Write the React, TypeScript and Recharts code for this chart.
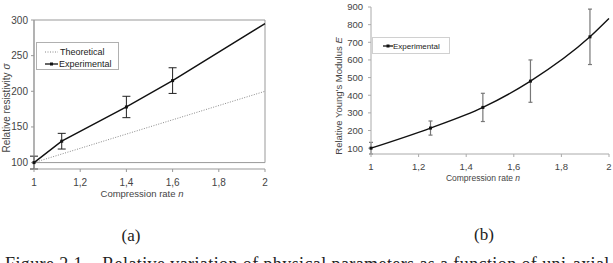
import {
  LineChart,
  Line,
  XAxis,
  YAxis,
  ErrorBar,
  Legend,
  ReferenceArea,
} from "recharts";

// (a) relative resistivity vs compression rate
const rateA = [1, 1.12, 1.4, 1.6, 2];
const theoreticalA = [100, 112, 140, 160, 200];
const experimentalA = [100, 130, 178, 215, 295];
const errorA = [9, 11, 15, 18, null];
const xTicksA = [1, 1.2, 1.4, 1.6, 1.8, 2];
const yTicksA = [100, 150, 200, 250, 300];

// (b) relative Young's modulus vs compression rate
const rateB = [1, 1.25, 1.47, 1.67, 1.92, 2];
const experimentalB = [100, 214, 331, 480, 731, 835];
const errorB = [33, 40, 80, 120, 157, null];
const xTicksB = [1, 1.2, 1.4, 1.6, 1.8, 2];
const yTicksB = [100, 200, 300, 400, 500, 600, 700, 800, 900];

const dataA = rateA.map((n, i) => ({
  n,
  theo: theoreticalA[i],
  exp: experimentalA[i],
  err: errorA[i],
}));

const dataB = rateB.map((n, i) => ({
  n,
  exp: experimentalB[i],
  err: errorB[i],
}));

const sans = "'Liberation Sans', Arial, sans-serif";
const serif = "'Liberation Serif', 'Times New Roman', serif";
const comma = (v: number) => String(v).replace(".", ",");

// small square marker, hidden on the last point (line runs off to the edge)
const squareDot = (count: number) => (props: any) => {
  const { cx, cy, index } = props;
  if (index === count - 1 || cx == null) return <g key={index} />;
  return <rect key={index} x={cx - 1.5} y={cy - 1.5} width={3} height={3} fill="#111" />;
};

function LegendA() {
  return (
    <div
      style={{
        border: "1px solid #b0b0b0",
        background: "#fff",
        width: 83,
        height: 28,
        boxSizing: "border-box",
        fontFamily: sans,
        fontSize: 9,
        color: "#222",
        padding: "3px 0 0 8px",
        lineHeight: "12px",
      }}
    >
      <div style={{ display: "flex", alignItems: "center" }}>
        <svg width={13} height={6}>
          <line x1={0} y1={3} x2={13} y2={3} stroke="#888" strokeDasharray="1 1.5" />
        </svg>
        <span style={{ marginLeft: 2 }}>Theoretical</span>
      </div>
      <div style={{ display: "flex", alignItems: "center" }}>
        <svg width={13} height={6}>
          <line x1={0} y1={3} x2={13} y2={3} stroke="#111" strokeWidth={1.3} />
          <rect x={5} y={1.5} width={3} height={3} fill="#111" />
        </svg>
        <span style={{ marginLeft: 1 }}>Experimental</span>
      </div>
    </div>
  );
}

function LegendB() {
  return (
    <div
      style={{
        border: "1px solid #d0d0d0",
        background: "#fff",
        width: 78,
        height: 17,
        boxSizing: "border-box",
        fontFamily: sans,
        fontSize: 8,
        color: "#222",
        padding: "1px 0 0 10px",
        lineHeight: "11px",
        display: "flex",
        alignItems: "center",
      }}
    >
      <svg width={10} height={6}>
        <line x1={0} y1={3} x2={10} y2={3} stroke="#111" strokeWidth={1.3} />
        <rect x={3.5} y={1.5} width={3} height={3} fill="#111" />
      </svg>
      <span>Experimental</span>
    </div>
  );
}

function ChartA() {
  return (
    <LineChart
      width={300}
      height={200}
      data={dataA}
      margin={{ top: 20, right: 35, left: 0, bottom: 0 }}
    >
      <XAxis
        dataKey="n"
        type="number"
        domain={[1, 2]}
        ticks={xTicksA}
        tickFormatter={comma}
        height={31}
        stroke="#999"
        tickSize={3}
        tickMargin={7}
        tick={{ fill: "#444", fontSize: 10, fontFamily: sans }}
        label={() => (
          <text x={142} y={197} textAnchor="middle" fill="#444" fontSize={9.5} fontFamily={sans}>
            Compression rate <tspan fontStyle="italic">n</tspan>
          </text>
        )}
      />
      <YAxis
        type="number"
        domain={[100, 300]}
        ticks={yTicksA}
        width={34}
        stroke="#999"
        tickSize={3}
        tickMargin={3}
        tick={{ fill: "#444", fontSize: 10, fontFamily: sans }}
        label={() => (
          <text
            x={10}
            y={108}
            transform="rotate(-90 10 108)"
            textAnchor="middle"
            fill="#444"
            fontSize={10}
            fontFamily={sans}
          >
            Relative resistivity <tspan fontStyle="italic">σ</tspan>
          </text>
        )}
      />
      <ReferenceArea x1={1} x2={2} y1={100} y2={300} fill="none" stroke="#999" ifOverflow="visible" />
      <Legend
        layout="vertical"
        align="center"
        verticalAlign="middle"
        content={() => <LegendA />}
        wrapperStyle={{ position: "absolute", left: 36, top: 42, width: "auto", height: "auto" }}
      />
      <Line
        type="linear"
        dataKey="theo"
        stroke="#8a8a8a"
        strokeWidth={1}
        strokeDasharray="1 1.5"
        dot={false}
        isAnimationActive={false}
      />
      <Line
        type="linear"
        dataKey="exp"
        stroke="#111"
        strokeWidth={1.4}
        dot={squareDot(dataA.length)}
        isAnimationActive={false}
      >
        <ErrorBar dataKey="err" direction="y" width={4} stroke="#222" strokeWidth={1} />
      </Line>
    </LineChart>
  );
}

function ChartB() {
  return (
    <LineChart
      width={303}
      height={200}
      data={dataB}
      margin={{ top: 7, right: 4, left: 0, bottom: 0 }}
    >
      <XAxis
        dataKey="n"
        type="number"
        domain={[1, 2]}
        ticks={xTicksB}
        tickFormatter={comma}
        height={46}
        stroke="#aaa"
        tickSize={3}
        tickMargin={6}
        tick={{ fill: "#444", fontSize: 9.5, fontFamily: sans }}
        label={() => (
          <text x={173} y={181} textAnchor="middle" fill="#444" fontSize={8.5} fontFamily={sans}>
            Compression rate <tspan fontStyle="italic">n</tspan>
          </text>
        )}
      />
      <YAxis
        type="number"
        domain={[100, 900]}
        ticks={yTicksB}
        width={61}
        stroke="#aaa"
        tickSize={3}
        tickMargin={5}
        tick={{ fill: "#444", fontSize: 9.5, fontFamily: sans }}
        label={() => (
          <text
            x={32}
            y={96}
            transform="rotate(-90 32 96)"
            textAnchor="middle"
            fill="#444"
            fontSize={9.5}
            fontFamily={sans}
          >
            Relative Young's Modulus <tspan fontStyle="italic">E</tspan>
          </text>
        )}
      />
      <Legend
        layout="vertical"
        align="center"
        verticalAlign="middle"
        content={() => <LegendB />}
        wrapperStyle={{ position: "absolute", left: 62, top: 37, width: "auto", height: "auto" }}
      />
      <Line
        type="monotone"
        dataKey="exp"
        stroke="#111"
        strokeWidth={1.4}
        dot={squareDot(dataB.length)}
        isAnimationActive={false}
      >
        <ErrorBar dataKey="err" direction="y" width={2} stroke="#777" strokeWidth={1.2} />
      </Line>
    </LineChart>
  );
}

export default function App() {
  return (
    <div
      style={{
        position: "absolute",
        left: 0,
        top: 0,
        width: 613,
        height: 263,
        overflow: "hidden",
        background: "#fff",
      }}
    >
      <div style={{ position: "absolute", left: 0, top: 0 }}>
        <ChartA />
      </div>
      <div style={{ position: "absolute", left: 310, top: 0 }}>
        <ChartB />
      </div>
      <div
        style={{
          position: "absolute",
          left: 111,
          top: 226,
          width: 40,
          textAlign: "center",
          fontFamily: serif,
          fontSize: 17,
          color: "#222",
        }}
      >
        (a)
      </div>
      <div
        style={{
          position: "absolute",
          left: 464,
          top: 225,
          width: 40,
          textAlign: "center",
          fontFamily: serif,
          fontSize: 17,
          color: "#222",
        }}
      >
        (b)
      </div>
      <div
        style={{
          position: "absolute",
          left: 5,
          top: 254,
          whiteSpace: "nowrap",
          fontFamily: serif,
          fontSize: 18,
          letterSpacing: 0.4,
          color: "#222",
        }}
      >
        Figure 2.1 – Relative variation of physical parameters as a function of uni-axial
      </div>
    </div>
  );
}
